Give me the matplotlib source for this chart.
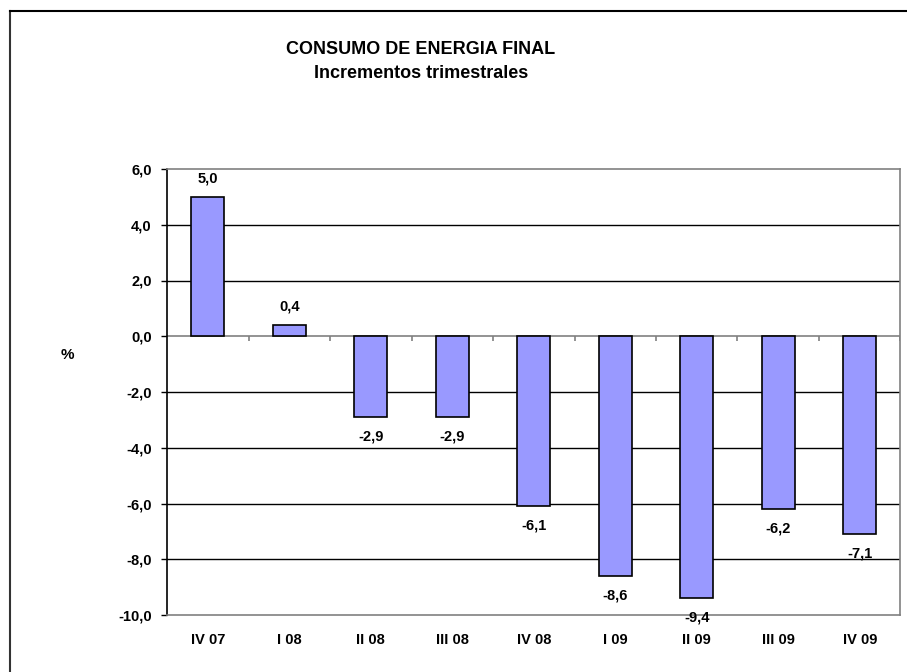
import matplotlib
matplotlib.use("Agg")
import matplotlib.pyplot as plt
from matplotlib.lines import Line2D

categories = ["IV 07", "I 08", "II 08", "III 08", "IV 08", "I 09", "II 09", "III 09", "IV 09"]
values = [5.0, 0.4, -2.9, -2.9, -6.1, -8.6, -9.4, -6.2, -7.1]
yticks = [-10, -8, -6, -4, -2, 0, 2, 4, 6]

plt.rcParams['font.family'] = ['Liberation Sans', 'DejaVu Sans']

fig = plt.figure(figsize=(9.07, 6.72), dpi=100)
ax = fig.add_axes([167/907, 1-615/672, (900.5-167)/907, (615-169)/672])

x = list(range(len(categories)))
ax.bar(x, values, width=0.41, color="#9999FF", edgecolor="black", linewidth=1.2, zorder=3)

ax.set_xlim(-0.5, len(categories)-0.5)
ax.set_ylim(-10, 6)
ax.set_yticks(yticks)
ax.set_yticklabels([f"{v:.1f}".replace(".", ",") for v in yticks], fontsize=10.5, fontweight="bold")
ax.set_xticks(x)
ax.set_xticklabels(categories, fontsize=10.5, fontweight="bold")
ax.tick_params(axis="x", length=0, pad=13)
ax.tick_params(axis="y", length=4, width=1, direction="out", pad=7)

for v in yticks:
    if v not in (0, -10, 6):
        ax.axhline(v, color="black", linewidth=1, zorder=1)

# zero axis with category-boundary ticks
ax.axhline(0, color="#808080", linewidth=1.2, zorder=2)
ax.vlines([i + 0.5 for i in range(len(categories))], 0, -0.17, color="#808080", linewidth=1.2, zorder=2)

for s in ("top", "right", "bottom"):
    ax.spines[s].set_color("#808080")
    ax.spines[s].set_linewidth(1.2)
ax.spines["left"].set_color("black")
ax.spines["left"].set_linewidth(1.2)

for xi, v in zip(x, values):
    lab = f"{v:.1f}".replace(".", ",")
    if v >= 0:
        ax.annotate(lab, (xi, v), xytext=(0, 8), textcoords="offset points",
                    ha="center", va="bottom", fontsize=10.5, fontweight="bold")
    else:
        ax.annotate(lab, (xi, v), xytext=(0, -9), textcoords="offset points",
                    ha="center", va="top", fontsize=10.5, fontweight="bold")

fig.text(67/907, 1-355/672, "%", fontsize=11, fontweight="bold", ha="center", va="center")

fig.text(421/907, 1-50/672, "CONSUMO DE ENERGIA FINAL", fontsize=13, fontweight="bold", ha="center", va="center")
fig.text(421/907, 1-74/672, "Incrementos trimestrales", fontsize=13, fontweight="bold", ha="center", va="center")

# figure border (left and top visible)
fig.add_artist(Line2D([9.5/907, 9.5/907], [0, 1-11/672], transform=fig.transFigure, color="#333333", linewidth=1.5))
fig.add_artist(Line2D([9.5/907, 1], [1-11/672, 1-11/672], transform=fig.transFigure, color="black", linewidth=1.5))

fig.savefig("out.png", dpi=100)
